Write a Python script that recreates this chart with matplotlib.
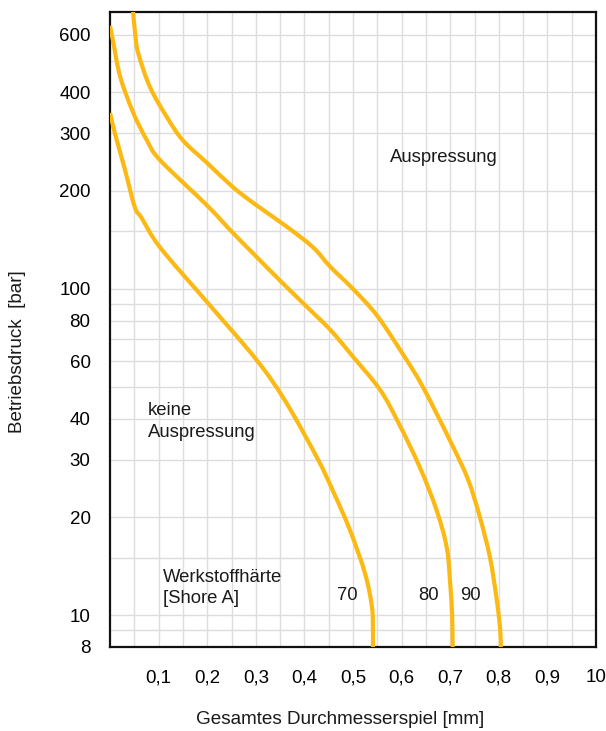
import matplotlib
matplotlib.use("Agg")
import numpy as np
import matplotlib.pyplot as plt
from matplotlib.path import Path
from matplotlib.patches import PathPatch
from matplotlib.ticker import FixedLocator, NullFormatter

plt.rcParams['font.family'] = ['Liberation Sans', 'DejaVu Sans']

# Extrusion limit curves: total diametral clearance [mm] vs. operating pressure [bar]
clearance_70 = [0.0, 0.010, 0.031, 0.051, 0.065, 0.103, 0.20, 0.30, 0.36,
                0.426, 0.459, 0.494, 0.525, 0.539, 0.541, 0.541]
pressure_70 = [346, 300, 231, 178, 165, 134, 91, 61, 45.5,
               30.4, 24, 18.2, 13.4, 10.6, 9, 8]

clearance_80 = [0.0, 0.007, 0.021, 0.048, 0.076, 0.103, 0.20, 0.25, 0.30,
                0.35, 0.40, 0.453, 0.50, 0.556, 0.595, 0.638, 0.672, 0.693,
                0.70, 0.704, 0.705]
pressure_80 = [640, 567, 446, 346, 285, 248, 180, 150, 126,
               106, 89.6, 75, 62, 49, 38.5, 28.3, 21, 16.1,
               12.5, 10, 8]

clearance_90 = [0.047, 0.052, 0.058, 0.082, 0.117, 0.15, 0.20, 0.253, 0.30,
                0.364, 0.418, 0.453, 0.50, 0.549, 0.60, 0.644, 0.703,
                0.737, 0.761, 0.782, 0.796, 0.803, 0.804]
pressure_90 = [720, 600, 528, 416, 336, 285, 243, 205, 181,
               155, 134, 117, 100, 83, 64, 50, 33.5,
               26, 20, 15, 11.1, 9, 8]

hardness_labels = ['70', '80', '90']

y_ticks = [8, 10, 20, 30, 40, 60, 80, 100, 200, 300, 400, 600]
y_grid = [9, 10, 15, 20, 30, 40, 50, 60, 70, 80, 90, 100, 150, 200, 300, 400, 500, 600]
x_ticks = [0.1, 0.2, 0.3, 0.4, 0.5, 0.6, 0.7, 0.8, 0.9, 1.0]
x_tick_labels = ['0,1', '0,2', '0,3', '0,4', '0,5', '0,6', '0,7', '0,8', '0,9', '10']

W, H = 606, 731
AX_W, AX_H = 486, 635
X_MIN, X_MAX, Y_MIN, Y_MAX = 0.0, 1.0, 8, 705


def smooth_path(xs, ys):
    """Catmull-Rom curve through the points, as cubic Bezier segments
    (built in x / log10(y) space so it looks even on the log axis)."""
    sx = AX_W / (X_MAX - X_MIN)
    sy = AX_H / (np.log10(Y_MAX) - np.log10(Y_MIN))
    p = np.column_stack([np.asarray(xs) * sx, np.log10(ys) * sy])
    ext = np.vstack([p[0], p, p[-1]])
    verts = [p[0]]
    codes = [Path.MOVETO]
    for i in range(len(p) - 1):
        p0, p1, p2, p3 = ext[i], ext[i + 1], ext[i + 2], ext[i + 3]
        c1 = p1 + (p2 - p0) / 6.0
        c2 = p2 - (p3 - p1) / 6.0
        verts += [c1, c2, p2]
        codes += [Path.CURVE4] * 3
    v = np.array(verts)
    v = np.column_stack([v[:, 0] / sx, 10 ** (v[:, 1] / sy)])
    return Path(v, codes)


fig = plt.figure(figsize=(W / 100, H / 100), dpi=100)
ax = fig.add_axes([110 / W, 1 - 647 / H, AX_W / W, AX_H / H])

ax.set_yscale('log')
ax.set_xlim(X_MIN, X_MAX)
ax.set_ylim(Y_MIN, Y_MAX)

grid_kw = dict(color='#dddddd', lw=1.0, zorder=0)
for gx in [i * 0.05 for i in range(1, 20)]:
    ax.axvline(gx, **grid_kw)
for gy in y_grid:
    ax.axhline(gy, **grid_kw)

curve_color = '#FDB913'
for xs, ys in [(clearance_70, pressure_70), (clearance_80, pressure_80),
               (clearance_90, pressure_90)]:
    patch = PathPatch(smooth_path(xs, ys), facecolor='none',
                      edgecolor=curve_color, lw=3.0, capstyle='butt',
                      joinstyle='round', zorder=3)
    ax.add_patch(patch)

ax.yaxis.set_major_locator(FixedLocator(y_ticks))
ax.yaxis.set_minor_locator(FixedLocator([]))
ax.yaxis.set_minor_formatter(NullFormatter())
ax.set_yticks(y_ticks)
ax.set_yticklabels([str(v) for v in y_ticks])
ax.set_xticks(x_ticks)
ax.set_xticklabels(x_tick_labels)
ax.tick_params(axis='both', length=0, labelsize=13.5)
ax.tick_params(axis='y', pad=14)
ax.tick_params(axis='x', pad=16)

for sp in ax.spines.values():
    sp.set_linewidth(1.6)
    sp.set_color('#111111')

txt_kw = dict(fontsize=13.3, color='#1a1a1a')
ax.text(0.576, 252, 'Auspressung', va='center', ha='left', **txt_kw)
ax.text(0.078, 39.3, 'keine\nAuspressung', va='center', ha='left',
        linespacing=1.35, **txt_kw)
ax.text(0.109, 12.1, 'Werkstoffhärte\n[Shore A]', va='center', ha='left',
        linespacing=1.3, **txt_kw)
for lbl, xpos in zip(hardness_labels, [0.488, 0.656, 0.741]):
    ax.text(xpos, 11.5, lbl, va='center', ha='center', **txt_kw)

fig.text(340 / W, 1 - 720 / H, 'Gesamtes Durchmesserspiel [mm]',
         ha='center', va='center', fontsize=13.6, color='#1a1a1a')
fig.text(18 / W, 1 - 352 / H, 'Betriebsdruck  [bar]', rotation=90,
         ha='center', va='center', fontsize=13.6, color='#1a1a1a')

fig.savefig('out.png', dpi=100)
